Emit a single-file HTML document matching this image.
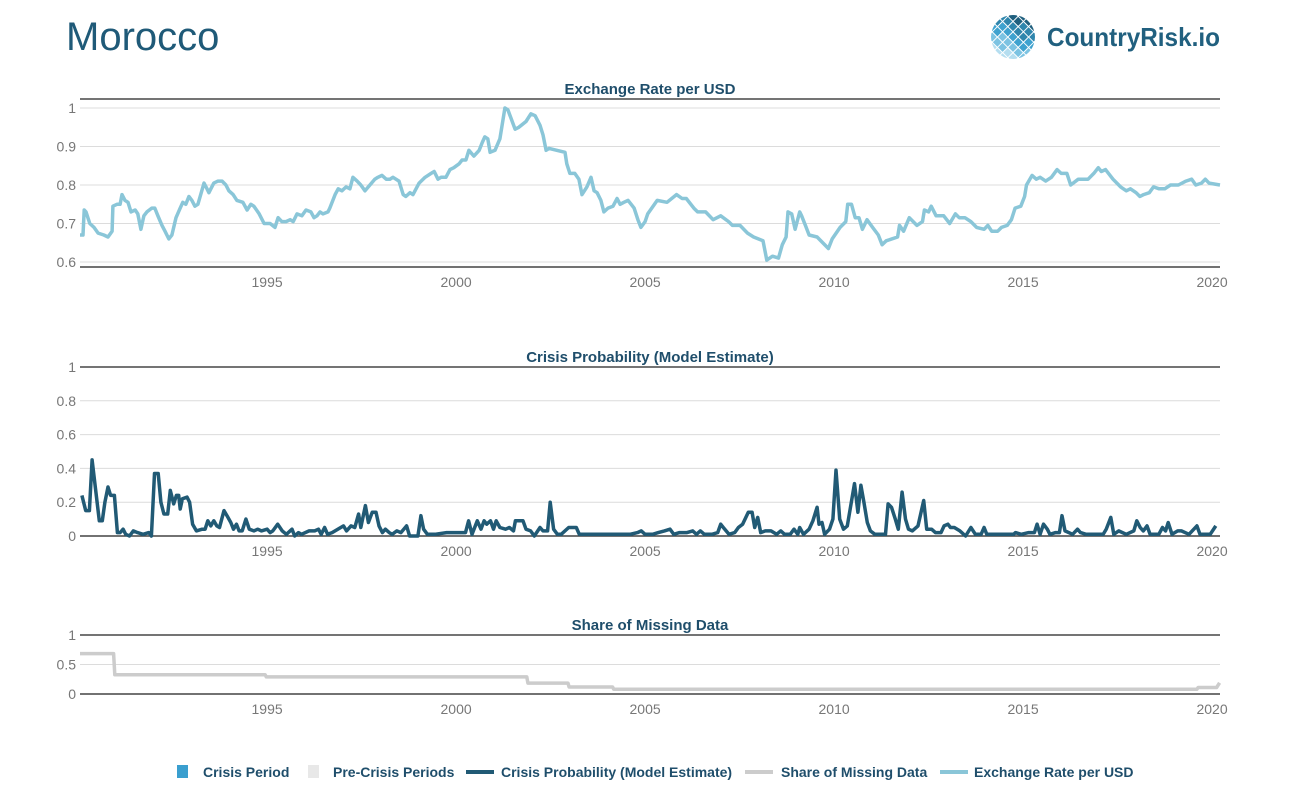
<!DOCTYPE html>
<html><head><meta charset="utf-8">
<style>
body{margin:0;background:#fff;width:1300px;height:800px;overflow:hidden;font-family:"Liberation Sans",sans-serif}
svg text{font-family:"Liberation Sans",sans-serif}
</style></head>
<body>
<svg id="chart" width="1300" height="800" viewBox="0 0 1300 800" xmlns="http://www.w3.org/2000/svg">
<text x="66" y="50" font-size="40" fill="#1f5a78">Morocco</text>
<g>
<defs><clipPath id="gc"><circle cx="1013" cy="37" r="22"/></clipPath></defs>
<g clip-path="url(#gc)" id="globe"></g>
<text x="1047" y="46" font-size="26" font-weight="bold" fill="#21607f" textLength="173" lengthAdjust="spacingAndGlyphs">CountryRisk.io</text>
</g>
<g id="plots"></g>
<g font-size="14" font-weight="bold" fill="#1f4e6b">
<rect x="177" y="765" width="11" height="13" fill="#3a9fcf"/>
<text x="203" y="777">Crisis Period</text>
<rect x="308" y="765" width="11" height="13" fill="#e8e8e8"/>
<text x="333" y="777">Pre-Crisis Periods</text>
<rect x="466" y="770" width="28" height="4" fill="#215a75"/>
<text x="501" y="777">Crisis Probability (Model Estimate)</text>
<rect x="745" y="770" width="28" height="4" fill="#cccccc"/>
<text x="781" y="777">Share of Missing Data</text>
<rect x="940" y="770" width="28" height="4" fill="#8ac6d8"/>
<text x="974" y="777">Exchange Rate per USD</text>
</g>
</svg>
<script>
const xTicks = [1995, 2000, 2005, 2010, 2015, 2020];
const fxYears = [1990.05,1990.13,1990.16,1990.21,1990.31,1990.42,1990.53,1990.68,1990.79,1990.90,1990.92,1991.03,1991.11,1991.16,1991.24,1991.32,1991.40,1991.51,1991.58,1991.66,1991.74,1991.82,1991.95,1992.03,1992.11,1992.22,1992.30,1992.40,1992.48,1992.59,1992.70,1992.77,1992.85,1992.93,1993.01,1993.09,1993.17,1993.33,1993.41,1993.46,1993.59,1993.70,1993.81,1993.91,1993.99,1994.10,1994.20,1994.36,1994.47,1994.57,1994.65,1994.79,1994.92,1995.08,1995.21,1995.29,1995.39,1995.50,1995.61,1995.69,1995.79,1995.92,1996.03,1996.16,1996.24,1996.32,1996.40,1996.48,1996.61,1996.66,1996.80,1996.88,1996.98,1997.09,1997.19,1997.27,1997.38,1997.48,1997.59,1997.72,1997.85,1997.93,1998.04,1998.15,1998.25,1998.33,1998.49,1998.60,1998.67,1998.78,1998.86,1999.02,1999.18,1999.34,1999.42,1999.52,1999.60,1999.73,1999.84,1999.94,2000.08,2000.16,2000.26,2000.34,2000.47,2000.61,2000.69,2000.76,2000.84,2000.90,2001.03,2001.16,2001.29,2001.37,2001.56,2001.66,2001.85,2001.98,2002.09,2002.22,2002.30,2002.38,2002.46,2002.88,2002.93,2003.01,2003.14,2003.25,2003.33,2003.46,2003.57,2003.65,2003.73,2003.83,2003.91,2004.02,2004.15,2004.26,2004.34,2004.44,2004.55,2004.71,2004.81,2004.89,2005.00,2005.07,2005.32,2005.58,2005.83,2005.98,2006.09,2006.29,2006.39,2006.60,2006.80,2007.00,2007.21,2007.31,2007.51,2007.71,2007.87,2008.12,2008.22,2008.37,2008.53,2008.63,2008.73,2008.78,2008.88,2008.97,2009.09,2009.14,2009.24,2009.34,2009.55,2009.85,2009.95,2010.16,2010.31,2010.36,2010.46,2010.56,2010.66,2010.75,2010.87,2011.02,2011.17,2011.27,2011.38,2011.68,2011.73,2011.84,2011.99,2012.19,2012.34,2012.39,2012.50,2012.57,2012.70,2012.90,2013.06,2013.21,2013.31,2013.46,2013.62,2013.77,2013.97,2014.07,2014.17,2014.33,2014.43,2014.58,2014.69,2014.79,2014.94,2015.04,2015.09,2015.24,2015.35,2015.45,2015.60,2015.75,2015.90,2016.01,2016.16,2016.26,2016.46,2016.72,2016.87,2016.99,2017.07,2017.18,2017.38,2017.58,2017.73,2017.84,2017.99,2018.09,2018.19,2018.34,2018.45,2018.60,2018.75,2018.90,2019.11,2019.31,2019.46,2019.57,2019.72,2019.82,2019.92,2020.21];
const fxValues = [.67,.67,.735,.73,.70,.69,.675,.67,.665,.68,.745,.75,.75,.775,.76,.755,.73,.735,.725,.685,.72,.73,.74,.74,.72,.695,.68,.66,.67,.715,.74,.755,.75,.77,.76,.745,.75,.805,.79,.78,.805,.81,.81,.80,.785,.775,.76,.755,.735,.75,.745,.725,.70,.70,.69,.715,.705,.705,.71,.705,.725,.72,.735,.73,.715,.72,.73,.725,.73,.74,.775,.79,.785,.795,.79,.82,.81,.80,.785,.80,.815,.82,.825,.815,.815,.82,.81,.775,.77,.78,.775,.805,.82,.83,.835,.815,.82,.82,.84,.845,.855,.865,.865,.89,.875,.89,.91,.925,.92,.885,.89,.92,1.0,.995,.945,.95,.965,.985,.98,.955,.93,.89,.895,.885,.855,.83,.83,.815,.775,.795,.82,.785,.78,.76,.73,.74,.745,.765,.75,.755,.76,.74,.71,.69,.705,.725,.76,.755,.775,.765,.765,.74,.73,.73,.71,.72,.705,.695,.695,.675,.665,.655,.605,.615,.61,.645,.665,.73,.725,.685,.73,.72,.695,.67,.665,.635,.66,.69,.705,.75,.75,.715,.715,.685,.71,.69,.67,.645,.655,.665,.695,.68,.715,.695,.705,.735,.73,.745,.72,.72,.70,.725,.715,.715,.705,.69,.685,.695,.68,.68,.69,.695,.71,.74,.745,.77,.80,.825,.815,.82,.81,.82,.84,.83,.83,.80,.815,.815,.83,.845,.835,.84,.815,.795,.785,.79,.78,.77,.775,.78,.795,.79,.79,.80,.80,.81,.815,.80,.805,.815,.805,.80];
const cpYears = [1990.10,1990.20,1990.30,1990.37,1990.45,1990.56,1990.64,1990.71,1990.79,1990.86,1990.96,1991.04,1991.11,1991.19,1991.26,1991.36,1991.46,1991.57,1991.72,1991.87,1991.94,1992.02,1992.12,1992.19,1992.27,1992.37,1992.44,1992.53,1992.60,1992.66,1992.70,1992.76,1992.88,1992.95,1993.03,1993.13,1993.28,1993.36,1993.43,1993.51,1993.59,1993.67,1993.74,1993.86,1993.94,1994.04,1994.11,1994.19,1994.26,1994.34,1994.44,1994.53,1994.65,1994.75,1994.85,1995.00,1995.08,1995.15,1995.28,1995.40,1995.51,1995.66,1995.73,1995.83,1995.91,1996.11,1996.26,1996.36,1996.43,1996.52,1996.60,1996.72,1996.87,1997.02,1997.10,1997.22,1997.32,1997.42,1997.48,1997.60,1997.68,1997.78,1997.88,1997.96,1998.05,1998.13,1998.23,1998.31,1998.43,1998.54,1998.69,1998.77,1998.99,1999.07,1999.14,1999.24,1999.44,1999.75,1999.95,2000.25,2000.33,2000.42,2000.56,2000.66,2000.74,2000.81,2000.91,2000.99,2001.06,2001.16,2001.31,2001.41,2001.52,2001.57,2001.77,2001.85,2001.97,2002.07,2002.22,2002.30,2002.42,2002.49,2002.58,2002.68,2002.78,2002.98,2003.08,2003.18,2003.26,2003.48,2003.69,2003.99,2004.29,2004.60,2004.80,2004.90,2005.00,2005.20,2005.35,2005.51,2005.66,2005.76,2005.91,2006.11,2006.26,2006.36,2006.46,2006.57,2006.77,2006.92,2007.00,2007.07,2007.22,2007.37,2007.47,2007.58,2007.73,2007.83,2007.90,2007.98,2008.06,2008.18,2008.33,2008.48,2008.59,2008.69,2008.84,2008.94,2009.04,2009.09,2009.19,2009.34,2009.44,2009.55,2009.60,2009.68,2009.75,2009.88,2009.97,2010.05,2010.15,2010.25,2010.35,2010.54,2010.63,2010.71,2010.79,2010.88,2010.96,2011.08,2011.26,2011.36,2011.43,2011.52,2011.62,2011.70,2011.80,2011.89,2011.97,2012.07,2012.22,2012.37,2012.45,2012.58,2012.68,2012.83,2012.91,2013.01,2013.08,2013.18,2013.33,2013.48,2013.62,2013.74,2013.89,2013.97,2014.04,2014.29,2014.55,2014.75,2014.80,2014.95,2015.15,2015.30,2015.37,2015.45,2015.54,2015.64,2015.71,2015.86,2015.96,2016.03,2016.11,2016.31,2016.44,2016.52,2016.67,2016.97,2017.12,2017.20,2017.32,2017.40,2017.53,2017.63,2017.73,2017.93,2018.01,2018.10,2018.18,2018.28,2018.36,2018.59,2018.69,2018.77,2018.84,2018.94,2019.09,2019.19,2019.39,2019.60,2019.68,2019.80,2019.95,2020.10];
const cpValues = [.24,.15,.15,.45,.3,.09,.09,.2,.29,.24,.24,.02,.02,.04,.01,0,.03,.02,.01,.02,0,.37,.37,.2,.13,.13,.27,.19,.24,.24,.16,.22,.23,.2,.07,.03,.04,.04,.09,.06,.09,.06,.05,.15,.12,.08,.04,.07,.03,.03,.1,.04,.03,.04,.03,.04,.02,.03,.07,.03,.01,.04,0,.02,.01,.03,.03,.04,.01,.05,.01,.02,.04,.06,.03,.06,.05,.13,.05,.18,.08,.14,.14,.06,.02,.04,.02,.01,.03,.02,.06,0,0,.12,.04,.01,.01,.02,.02,.02,.09,.01,.09,.04,.09,.07,.09,.04,.09,.05,.04,.05,.03,.09,.09,.04,.03,0,.05,.03,.03,.2,.04,.01,.01,.05,.05,.05,.01,.01,.01,.01,.01,.01,.02,.03,.01,.01,.02,.03,.04,.01,.02,.02,.03,.01,.03,.01,.01,.02,.07,.05,.01,.02,.05,.07,.14,.14,.05,.11,.02,.03,.03,.01,.03,.01,.01,.04,.01,.05,.01,.04,.09,.17,.07,.08,.01,.04,.1,.39,.1,.04,.06,.31,.14,.3,.2,.08,.03,.01,.01,.01,.19,.17,.1,.04,.26,.1,.04,.03,.06,.21,.04,.04,.02,.02,.06,.07,.05,.05,.03,0,.05,.01,.01,.05,.01,.01,.01,.01,.02,.01,.02,.02,.07,.01,.07,.04,.01,.02,.02,.12,.03,.01,.04,.02,.01,.01,.01,.04,.11,.01,.03,.02,.01,.03,.09,.05,.03,.06,.01,.01,.05,.03,.08,.01,.03,.03,.01,.06,.01,.01,.01,.06];
const mdYears = [1990.05,1990.94,1990.97,1994.95,1994.98,2001.87,2001.9,2002.96,2002.99,2004.14,2004.17,2019.6,2019.63,2020.12,2020.2];
const mdValues = [.685,.685,.326,.326,.29,.29,.185,.185,.118,.118,.08,.08,.11,.11,.19];
const fxTicks = [0.6,0.7,0.8,0.9,1];
const fxTickLabels = ['0.6','0.7','0.8','0.9','1'];
const cpTicks = [0,0.2,0.4,0.6,0.8,1];
const cpTickLabels = ['0','0.2','0.4','0.6','0.8','1'];
const mdTicks = [0,0.5,1];
const mdTickLabels = ['0','0.5','1'];

const NS = 'http://www.w3.org/2000/svg';
const X0 = 80, X1 = 1220, Y0 = 1990.05, Y1 = 2020.21;
function xs(y){ return X0 + (y - Y0) / (Y1 - Y0) * (X1 - X0); }
function mk(tag, attrs, parent){ const e = document.createElementNS(NS, tag); for (const k in attrs) e.setAttribute(k, attrs[k]); parent.appendChild(e); return e; }
const plots = document.getElementById('plots');

function panel(name, title, titleY, vmin, vmax, pyMin, pyMax, axisY, ticks, tickLabels, years, values, color){
  const g = mk('g', {}, plots);
  
  
  const ys = v => pyMin + (v - vmin) / (vmax - vmin) * (pyMax - pyMin);
  ticks.forEach((t, i) => {
    const gl = mk('line', {x1: X0, x2: X1, y1: ys(t), y2: ys(t), stroke: '#dcdcdc', 'stroke-width': 1}, g);
    
    
    const tl = mk('text', {x: 76, y: ys(t) + 5, 'text-anchor': 'end', 'font-size': 14, fill: '#777'}, g);
    
    
    tl.textContent = tickLabels[i];
  });
  const tline = mk('line', {x1: X0, x2: X1, y1: titleY, y2: titleY, stroke: '#222', 'stroke-width': 1.2}, g);
  
  
  const tt = mk('text', {x: 650, y: titleY - 5, 'text-anchor': 'middle', 'font-size': 15, 'font-weight': 'bold', fill: '#1f4e6b'}, g);
  
  
  tt.textContent = title;
  const ax = mk('line', {x1: X0, x2: X1, y1: axisY, y2: axisY, stroke: '#444', 'stroke-width': 1.5}, g);
  
  
  xTicks.forEach(t => {
    const xl = mk('text', {x: xs(t), y: axisY + 20, 'text-anchor': 'middle', 'font-size': 14, fill: '#777'}, g);
    
    
    xl.textContent = String(t);
  });
  const d = years.map((y, i) => (i ? 'L' : 'M') + xs(y).toFixed(1) + ',' + ys(values[i]).toFixed(1)).join('');
  const p = mk('path', {d: d, fill: 'none', stroke: color, 'stroke-width': 3.5, 'stroke-linejoin': 'round'}, g);
  
  
}
panel('exchange-rate', 'Exchange Rate per USD', 99, 0.6, 1.0, 262, 108, 267, fxTicks, fxTickLabels, fxYears, fxValues, '#8ac6d8');
panel('crisis-probability', 'Crisis Probability (Model Estimate)', 367, 0, 1, 536, 367, 536, cpTicks, cpTickLabels, cpYears, cpValues, '#215a75');
panel('missing-data', 'Share of Missing Data', 635, 0, 1, 694, 635, 694, mdTicks, mdTickLabels, mdYears, mdValues, '#cccccc');

// logo globe
const globe = document.getElementById('globe');
const shades = ['#1f5f7e','#2f86ad','#3fa2cf','#7cc3e2','#b5def0'];
for (let r = -4; r <= 4; r++) for (let c = -4; c <= 4; c++) {
  const cx = 1013 + (c - r) * 5.2, cy = 37 + (c + r) * 5.2;
  const s = shades[Math.min(4, Math.max(0, Math.round((cy - 15) / 11 + (cx - 1013) / -20)))];
  const q = mk('rect', {x: cx - 3.2, y: cy - 3.2, width: 6.4, height: 6.4, fill: s, transform: 'rotate(45 ' + cx + ' ' + cy + ')'}, globe);
  
  
}
</script>
</body></html>
